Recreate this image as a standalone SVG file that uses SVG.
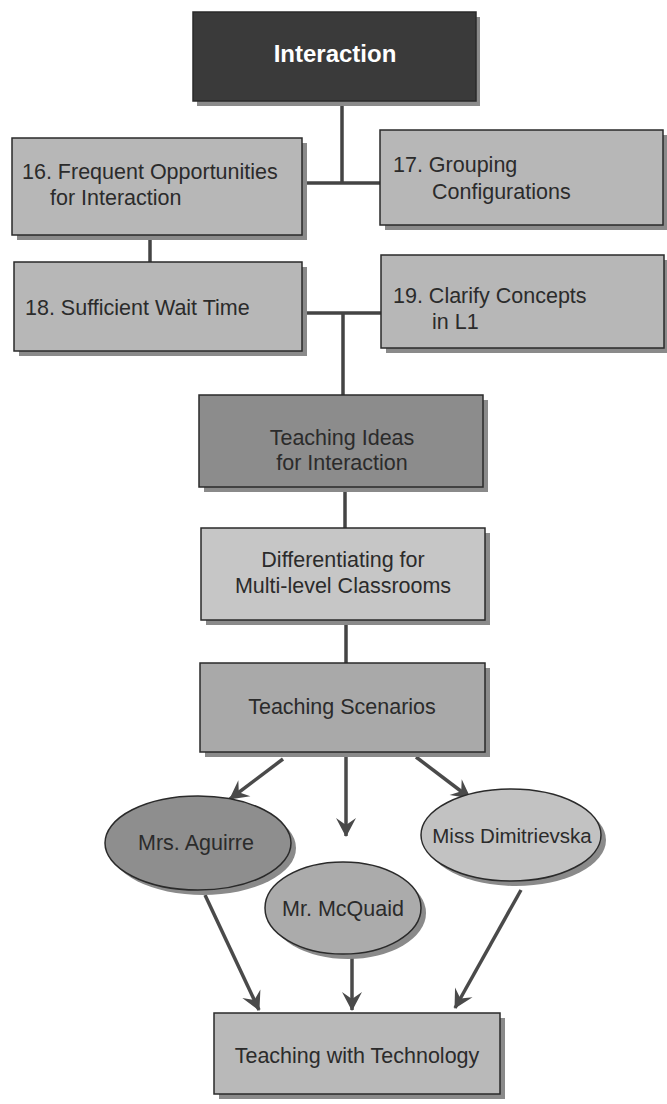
<svg xmlns="http://www.w3.org/2000/svg" width="667" height="1104" viewBox="0 0 667 1104">
<defs>
<style>
.sh{fill:#8a8a8a}
.bx{stroke:#2a2a2a;stroke-width:1.5}
.t{font-family:"Liberation Sans",Arial,sans-serif;font-size:21.5px;fill:#2b2b2b}
.c{text-anchor:middle}
.ln{stroke:#444;stroke-width:3.5;fill:none}
.ar{stroke:#4a4a4a;stroke-width:3.5;fill:none;marker-end:url(#ah)}
</style>
<marker id="ah" viewBox="-19 -11 21 22" refX="0" refY="0" markerWidth="21" markerHeight="22" markerUnits="userSpaceOnUse" orient="auto">
<path d="M1,0 L-18,-10 L-11,0 L-18,10 Z" fill="#4a4a4a"/>
</marker>
</defs>
<rect width="667" height="1104" fill="#ffffff"/>
<g id="connectors">
<path class="ln" d="M342,100 V183 M302,183 H380"/>
<path class="ln" d="M150,236 V262"/>
<path class="ln" d="M302,313 H381 M343,313 V395"/>
<path class="ln" d="M345,487 V528"/>
<path class="ln" d="M346,620 V663"/>
<path class="ar" d="M283,759 L230,799"/>
<path class="ar" d="M346,757 L346,836"/>
<path class="ar" d="M416,757 L470,798"/>
<path class="ar" d="M205,895 L259,1010"/>
<path class="ar" d="M352,955 L352,1010"/>
<path class="ar" d="M521,890 L455,1008"/>
</g>
<g id="interaction">
<rect class="sh" x="197" y="17" width="283" height="89"/>
<rect class="bx" x="193" y="12" width="283" height="89" fill="#3a3a3a"/>
<text class="t c" x="335" y="62" style="fill:#fff;font-weight:bold;font-size:24px">Interaction</text>
</g>
<g id="n16">
<rect class="sh" x="17" y="143" width="290" height="97"/>
<rect class="bx" x="12" y="138" width="290" height="97" fill="#b7b7b7"/>
<text class="t" x="22" y="179">16. Frequent Opportunities</text>
<text class="t" x="50" y="205">for Interaction</text>
</g>
<g id="n17">
<rect class="sh" x="385" y="135" width="282" height="95"/>
<rect class="bx" x="380" y="130" width="283" height="95" fill="#b7b7b7"/>
<text class="t" x="393" y="172">17. Grouping</text>
<text class="t" x="432" y="199">Configurations</text>
</g>
<g id="n18">
<rect class="sh" x="19" y="267" width="288" height="89"/>
<rect class="bx" x="14" y="262" width="288" height="89" fill="#b7b7b7"/>
<text class="t" x="25" y="315">18. Sufficient Wait Time</text>
</g>
<g id="n19">
<rect class="sh" x="386" y="260" width="281" height="93"/>
<rect class="bx" x="381" y="255" width="283" height="93" fill="#b7b7b7"/>
<text class="t" x="393" y="303">19. Clarify Concepts</text>
<text class="t" x="432" y="329">in L1</text>
</g>
<g id="ideas">
<rect class="sh" x="204" y="400" width="284" height="92"/>
<rect class="bx" x="199" y="395" width="284" height="92" fill="#8c8c8c"/>
<text class="t c" x="342" y="445">Teaching Ideas</text>
<text class="t c" x="342" y="470">for Interaction</text>
</g>
<g id="diff">
<rect class="sh" x="206" y="533" width="284" height="92"/>
<rect class="bx" x="201" y="528" width="284" height="92" fill="#c6c6c6"/>
<text class="t c" x="343" y="567">Differentiating for</text>
<text class="t c" x="343" y="593">Multi-level Classrooms</text>
</g>
<g id="scen">
<rect class="sh" x="205" y="668" width="285" height="89"/>
<rect class="bx" x="200" y="663" width="285" height="89" fill="#a9a9a9"/>
<text class="t c" x="342" y="714">Teaching Scenarios</text>
</g>
<g id="aguirre">
<ellipse class="sh" cx="203" cy="848" rx="93" ry="47"/>
<ellipse class="bx" cx="198" cy="843" rx="93" ry="47" fill="#8e8e8e"/>
<text class="t c" x="196" y="850">Mrs. Aguirre</text>
</g>
<g id="mcquaid">
<ellipse class="sh" cx="348" cy="913" rx="78" ry="46"/>
<ellipse class="bx" cx="343" cy="908" rx="78" ry="46" fill="#ababab"/>
<text class="t c" x="343" y="916">Mr. McQuaid</text>
</g>
<g id="dimitrievska">
<ellipse class="sh" cx="516" cy="840" rx="90" ry="46"/>
<ellipse class="bx" cx="511" cy="835" rx="90" ry="46" fill="#c2c2c2"/>
<text class="t c" x="512" y="843" style="font-size:20.5px">Miss Dimitrievska</text>
</g>
<g id="tech">
<rect class="sh" x="219" y="1018" width="286" height="81"/>
<rect class="bx" x="214" y="1013" width="286" height="81" fill="#b9b9b9"/>
<text class="t c" x="357" y="1063">Teaching with Technology</text>
</g>
</svg>
